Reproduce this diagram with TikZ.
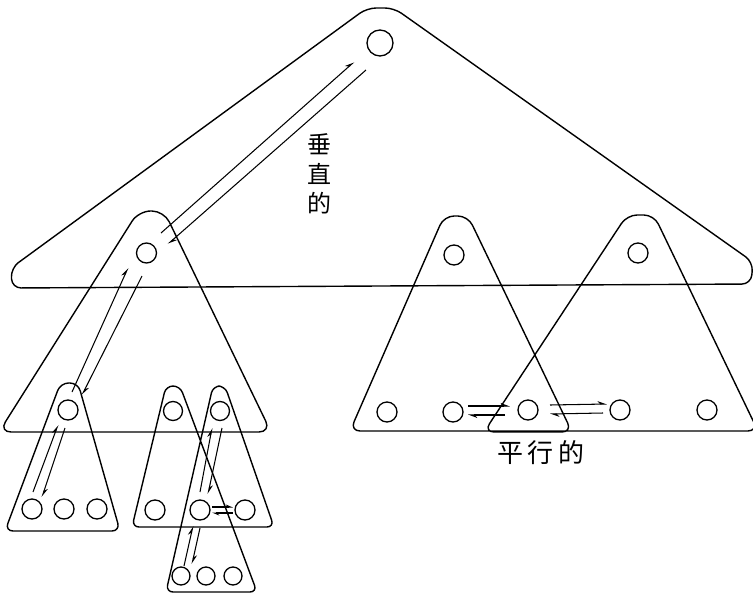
\documentclass[tikz,border=0pt]{standalone}
\usepackage{fontspec}
\newfontfamily\cjk{Noto Sans CJK SC}
\usetikzlibrary{arrows.meta}
\begin{document}
\begin{tikzpicture}[x=1pt,y=-1pt,
  outline/.style={draw, line width=1.4pt, line join=round},
  circ/.style={circle, draw, line width=1.3pt, minimum size=20pt, inner sep=0pt},
  arr/.style={line width=1.05pt, -{Stealth[harpoon,length=8pt,width=6pt]}},
  lbl/.style={font=\cjk\fontsize{24}{29.5}\selectfont, align=center, inner sep=0pt}]
\useasboundingbox (0,0) rectangle (753,595);

% outlines
\draw[outline, rounded corners=9pt] (380,286) -- (12,288) -- (11,268) -- (367,8) -- (394,8) -- (753,262) -- (751,284) -- cycle;
\draw[outline, rounded corners=12pt] (135,432) -- (-1,432) -- (138.5,211) -- (164,211) -- (271,432) -- cycle;
\draw[outline, rounded corners=10pt] (420,431) -- (350,431) -- (444,216) -- (468,216) -- (572,432) -- (484,432) -- (627,215) -- (654,215) -- (758,431) -- cycle;
\draw[outline, rounded corners=8pt] (60,531) -- (5,531) -- (60.5,383) -- (78,383) -- (120,531) -- cycle;
\draw[outline, rounded corners=7pt] (200,527) -- (132,527) -- (166,386) -- (180,386) -- (257,592) -- (166,592) -- (213,386) -- (225,386) -- (274,527) -- cycle;

% circles
\node[circ, minimum size=26pt] (r) at (380,43) {};
\node[circ] (a) at (146.5,253) {};
\node[circ] (b) at (454,255) {};
\node[circ] (c) at (638,253) {};
\node[circ] (b1) at (387,412) {};
\node[circ] (b2) at (453,412) {};
\node[circ] (bc) at (528,410) {};
\node[circ] (c2) at (620,410) {};
\node[circ] (c3) at (707,410) {};
\node[circ] (d) at (68,410) {};
\node[circ] (d1) at (32,509) {};
\node[circ] (d2) at (64,509) {};
\node[circ] (d3) at (97,509) {};
\node[circ, minimum size=19pt] (e) at (173,411) {};
\node[circ, minimum size=19pt] (f) at (220,411) {};
\node[circ] (e1) at (155,510) {};
\node[circ] (ef) at (200,510) {};
\node[circ] (f2) at (245,510) {};
\node[circ, minimum size=18pt] (g1) at (181,576) {};
\node[circ, minimum size=18pt] (g2) at (206,576) {};
\node[circ, minimum size=18pt] (g3) at (233,576) {};

% arrow end points
\coordinate (ra1) at (161,233); \coordinate (ra2) at (354,62);
\coordinate (ra3) at (366,70);  \coordinate (ra4) at (168,244);
\coordinate (ad1) at (72,392);  \coordinate (ad2) at (128,268);
\coordinate (ad3) at (142,276); \coordinate (ad4) at (82,395);
\coordinate (dd1) at (33,492);  \coordinate (dd2) at (58,425);
\coordinate (dd3) at (65,428);  \coordinate (dd4) at (42,497);
\coordinate (fe1) at (200,492); \coordinate (fe2) at (212,428);
\coordinate (fe3) at (222,428); \coordinate (fe4) at (208,494);
\coordinate (eg1) at (184,566); \coordinate (eg2) at (193,526);
\coordinate (eg3) at (200,528); \coordinate (eg4) at (192,564);
\coordinate (h1) at (468,406);  \coordinate (h2) at (510,406);
\coordinate (h3) at (505,415);  \coordinate (h4) at (468,415);
\coordinate (h5) at (550,405);  \coordinate (h6) at (607,404);
\coordinate (h7) at (603,413);  \coordinate (h8) at (550,414);
\coordinate (k1) at (212,507);  \coordinate (k2) at (233,507);
\coordinate (k3) at (233,513);  \coordinate (k4) at (212,513);

\draw[arr] (ra1) -- (ra2);
\draw[arr] (ra3) -- (ra4);
\draw[arr] (ad1) -- (ad2);
\draw[arr] (ad3) -- (ad4);
\draw[arr] (dd1) -- (dd2);
\draw[arr] (dd3) -- (dd4);
\draw[arr] (fe1) -- (fe2);
\draw[arr] (fe3) -- (fe4);
\draw[arr] (eg1) -- (eg2);
\draw[arr] (eg3) -- (eg4);
\draw[arr] (h1) -- (h2);
\draw[arr] (h3) -- (h4);
\draw[arr] (h5) -- (h6);
\draw[arr] (h7) -- (h8);
\draw[arr, -{Stealth[harpoon,length=6pt,width=5pt]}] (k1) -- (k2);
\draw[arr, -{Stealth[harpoon,length=6pt,width=5pt]}] (k3) -- (k4);

% labels
\node[lbl] (lv) at (319,174) {垂\\直\\的};
\node[lbl, font=\cjk\fontsize{26}{30}\selectfont] (lp) at (541,453) {平\hspace{5pt}行\hspace{5pt}的};
\end{tikzpicture}
\end{document}
